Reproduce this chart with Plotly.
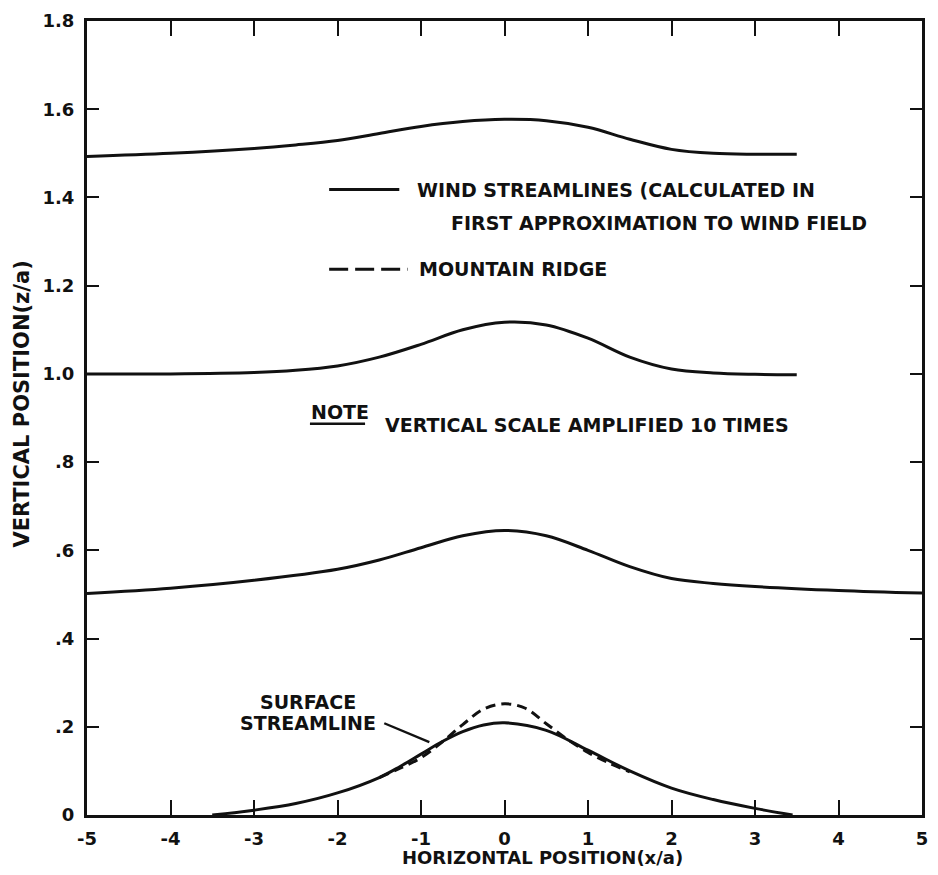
import plotly.graph_objects as go

# ---- data ----
x_top = [-5, -4, -3, -2.5, -2, -1.5, -1, -0.5, 0, 0.5, 1, 1.5, 2, 2.5, 3, 3.5]
y_top = [1.493, 1.500, 1.511, 1.519, 1.529, 1.545, 1.561, 1.572, 1.577, 1.574, 1.559, 1.532, 1.509, 1.500, 1.498, 1.498]

x_mid = [-5, -4, -3, -2.5, -2, -1.5, -1, -0.5, 0, 0.5, 1, 1.5, 2, 2.5, 3, 3.5]
y_mid = [1.0, 1.0, 1.003, 1.008, 1.018, 1.038, 1.067, 1.100, 1.117, 1.111, 1.081, 1.038, 1.011, 1.002, 0.999, 0.998]

x_low = [-5, -4, -3, -2, -1.5, -1, -0.5, 0, 0.5, 1, 1.5, 2, 2.5, 3, 4, 5]
y_low = [0.502, 0.514, 0.532, 0.557, 0.578, 0.606, 0.633, 0.645, 0.633, 0.600, 0.563, 0.536, 0.525, 0.518, 0.509, 0.503]

x_surf = [-3.5, -3, -2.5, -2, -1.5, -1.25, -1, -0.75, -0.5, -0.25, 0, 0.5, 1, 1.5, 2, 2.5, 3, 3.45]
y_surf = [0.0, 0.011, 0.026, 0.05, 0.085, 0.110, 0.138, 0.166, 0.189, 0.204, 0.209, 0.192, 0.147, 0.10, 0.061, 0.035, 0.015, 0.0]

x_ridge = [-1.5, -1.25, -1.0, -0.75, -0.5, -0.25, 0, 0.25, 0.5, 0.75, 1.0, 1.25, 1.5]
y_ridge = [0.085, 0.106, 0.130, 0.165, 0.205, 0.240, 0.252, 0.242, 0.207, 0.172, 0.142, 0.118, 0.098]

x_ticks = [-5, -4, -3, -2, -1, 0, 1, 2, 3, 4, 5]
x_ticklabels = ["-5", "-4", "-3", "-2", "-1", "0", "1", "2", "3", "4", "5"]
y_ticks = [0, 0.2, 0.4, 0.6, 0.8, 1.0, 1.2, 1.4, 1.6, 1.8]
y_ticklabels = ["0", ".2", ".4", ".6", ".8", "1.0", "1.2", "1.4", "1.6", "1.8"]

FONT = "DejaVu Sans"
INK = "#111111"

fig = go.Figure()
for xs, ys in [(x_top, y_top), (x_mid, y_mid), (x_low, y_low), (x_surf, y_surf)]:
    fig.add_trace(go.Scatter(x=xs, y=ys, mode="lines", line=dict(color=INK, width=3, shape="spline", smoothing=1.0),
                             showlegend=False, hoverinfo="skip"))
fig.add_trace(go.Scatter(x=x_ridge, y=y_ridge, mode="lines",
                         line=dict(color=INK, width=3, dash="10px,6px", shape="spline", smoothing=1.0),
                         showlegend=False, hoverinfo="skip"))

# legend samples (drawn in data coordinates)
fig.add_trace(go.Scatter(x=[-2.1, -1.26], y=[1.418, 1.418], mode="lines", line=dict(color=INK, width=3),
                         showlegend=False, hoverinfo="skip"))
fig.add_trace(go.Scatter(x=[-2.1, -1.16], y=[1.237, 1.237], mode="lines", line=dict(color=INK, width=3, dash="19px,7px"),
                         showlegend=False, hoverinfo="skip"))
# pointer for surface streamline
fig.add_trace(go.Scatter(x=[-1.44, -0.90], y=[0.208, 0.165], mode="lines", line=dict(color=INK, width=2.4),
                         showlegend=False, hoverinfo="skip"))
# underline for NOTE
fig.add_trace(go.Scatter(x=[-2.33, -1.67], y=[0.887, 0.887], mode="lines", line=dict(color=INK, width=2.5),
                         showlegend=False, hoverinfo="skip"))

tf = dict(family=FONT, size=19, color=INK, weight="bold")
annos = [
    (-1.07, 1.418, "WIND STREAMLINES (CALCULATED IN"),
    (-0.66, 1.341, "FIRST APPROXIMATION TO WIND FIELD"),
    (-1.05, 1.237, "MOUNTAIN RIDGE"),
    (-2.34, 0.914, "NOTE"),
    (-1.45, 0.884, "VERTICAL SCALE AMPLIFIED 10 TIMES"),
]
for ax_, ay_, t in annos:
    fig.add_annotation(x=ax_, y=ay_, text=t, showarrow=False, xanchor="left", yanchor="middle", font=tf)
fig.add_annotation(x=-2.35, y=0.256, text="SURFACE", showarrow=False, xanchor="center", yanchor="middle", font=tf)
fig.add_annotation(x=-2.35, y=0.209, text="STREAMLINE", showarrow=False, xanchor="center", yanchor="middle", font=tf)

# axis titles placed as paper annotations
fig.add_annotation(xref="paper", yref="paper", x=0.545, y=-0.054, xanchor="center", yanchor="middle",
                   text="HORIZONTAL POSITION(x/a)", showarrow=False,
                   font=dict(family=FONT, size=18, color=INK, weight="bold"))
fig.add_annotation(xref="paper", yref="paper", x=-0.078, y=0.518, xanchor="center", yanchor="middle",
                   text="VERTICAL POSITION(z/a)", textangle=-90, showarrow=False,
                   font=dict(family=FONT, size=21, color=INK, weight="bold"))

axis_common = dict(showgrid=False, zeroline=False, showline=True, linecolor=INK, linewidth=3,
                   mirror="ticks", ticks="inside", tickcolor=INK, tickwidth=2,
                   tickfont=dict(family=FONT, size=18, color=INK, weight="bold"))
fig.update_xaxes(range=[-5, 5], tickvals=x_ticks, ticktext=x_ticklabels, ticklen=15, ticklabelstandoff=5,
                 **axis_common)
fig.update_yaxes(range=[0, 1.8], tickvals=y_ticks, ticktext=y_ticklabels, ticklen=12, ticklabelstandoff=6,
                 **axis_common)
fig.update_layout(width=938, height=875, margin=dict(l=87, r=10, t=19, b=60),
                  paper_bgcolor="white", plot_bgcolor="white")
fig.write_html("out.html")
